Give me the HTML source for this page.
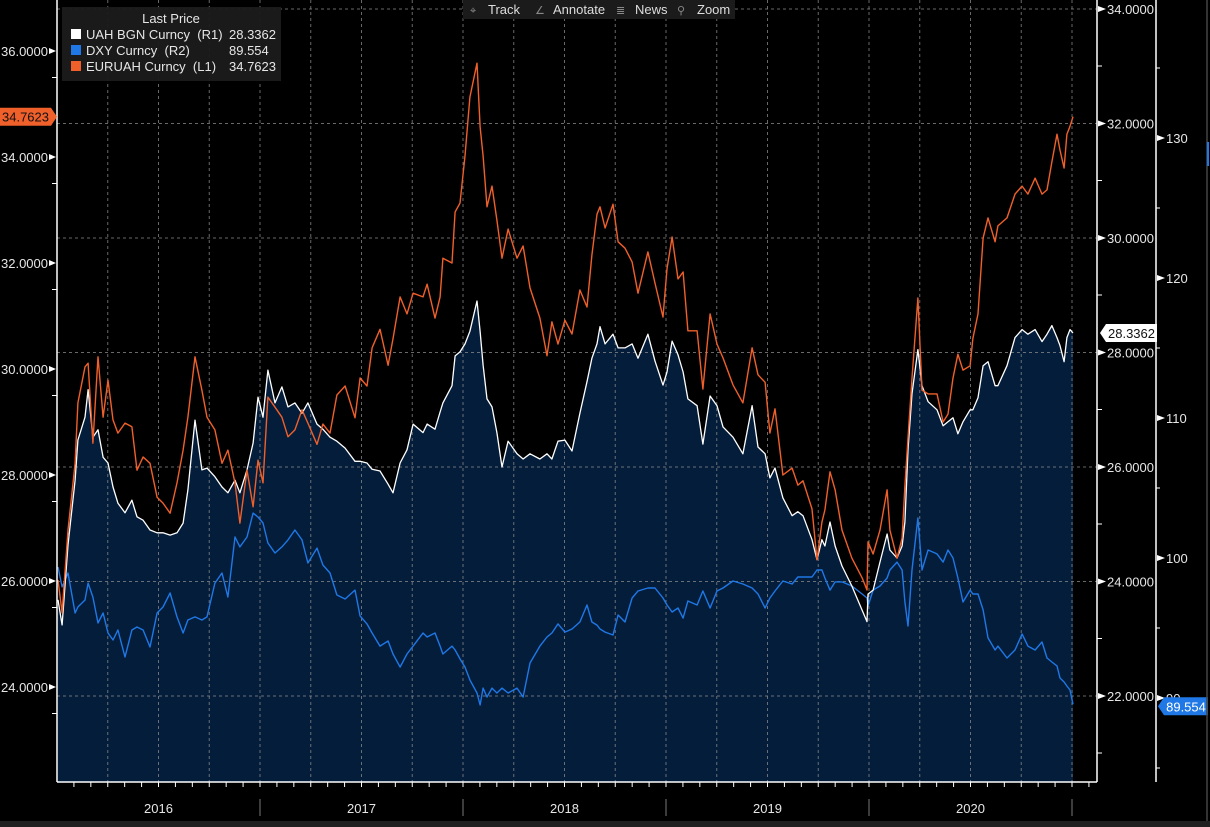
<!DOCTYPE html>
<html><head><meta charset="utf-8"><style>
html,body{margin:0;padding:0;background:#000;width:1210px;height:827px;overflow:hidden}
svg{display:block;font-family:"Liberation Sans",sans-serif}
</style></head><body>
<svg id="chart" width="1210" height="827" viewBox="0 0 1210 827" xmlns="http://www.w3.org/2000/svg">
<rect x="0" y="0" width="1210" height="827" fill="#000"/>
<g id="plot"></g>
<g id="axes"></g>
<rect x="0" y="821" width="1210" height="6" fill="#202020"/>
<line x1="1207" y1="0" x2="1207" y2="821" stroke="#444" stroke-width="1.5"/>
<rect x="1207" y="142" width="2" height="24" fill="#1f78e6"/>
<!-- legend -->
<g>
<rect x="62" y="7" width="219" height="74" fill="#1b1b1b" opacity="0.95"/>
<text x="171" y="23" fill="#e6e6e6" font-size="13" text-anchor="middle">Last Price</text>
<g><rect x="71" y="29" width="10" height="10" fill="#fff"/><text x="86" y="39" fill="#e6e6e6" font-size="13" xml:space="preserve">UAH BGN Curncy  (R1)</text><text x="229" y="39" fill="#e6e6e6" font-size="13">28.3362</text></g>
<g><rect x="71" y="45" width="10" height="10" fill="#1f78e6"/><text x="86" y="55" fill="#e6e6e6" font-size="13" xml:space="preserve">DXY Curncy  (R2)</text><text x="229" y="55" fill="#e6e6e6" font-size="13">89.554</text></g>
<g><rect x="71" y="61" width="10" height="10" fill="#f0602a"/><text x="86" y="71" fill="#e6e6e6" font-size="13" xml:space="preserve">EURUAH Curncy  (L1)</text><text x="229" y="71" fill="#e6e6e6" font-size="13">34.7623</text></g>
</g>
<!-- toolbar -->
<g>
<rect x="463" y="0" width="272" height="19" fill="#1b1b1b"/>
<g><text x="470" y="14" fill="#888" font-size="11">⌖</text><text x="488" y="14" fill="#ddd" font-size="13">Track</text></g>
<g><text x="535" y="14" fill="#888" font-size="11">∠</text><text x="553" y="14" fill="#ddd" font-size="13">Annotate</text></g>
<g><text x="616" y="14" fill="#888" font-size="11">≣</text><text x="635" y="14" fill="#ddd" font-size="13">News</text></g>
<g><text x="677" y="14" fill="#888" font-size="11">⚲</text><text x="697" y="14" fill="#ddd" font-size="13">Zoom</text></g>
</g>
</svg>
<script>
// years since 2016-01-01
const dates = [0.005,0.025,0.054,0.089,0.103,0.138,0.153,0.177,0.202,0.227,0.251,0.276,0.300,0.335,0.369,0.394,0.424,0.458,0.493,0.522,0.557,0.591,0.621,0.645,0.680,0.714,0.739,0.778,0.813,0.842,0.877,0.901,0.936,0.966,0.990,1.015,1.039,1.074,1.108,1.138,1.172,1.207,1.236,
1.281,1.310,1.345,1.379,1.419,1.468,1.493,1.527,1.552,1.591,1.631,1.655,1.690,1.724,1.754,1.803,1.823,1.862,1.887,1.901,1.946,1.961,1.985,2.010,2.034,2.069,2.084,2.099,2.118,2.143,2.167,2.192,2.222,2.266,2.296,2.330,2.379,2.414,2.438,2.468,
2.502,2.537,2.576,2.611,2.635,2.660,2.675,2.700,2.739,2.764,2.798,2.833,2.862,2.911,2.946,2.985,3.005,3.030,3.059,3.084,3.108,3.153,3.182,3.217,3.251,3.281,3.330,3.379,3.424,3.453,3.488,3.512,3.537,3.576,3.621,3.650,3.675,3.719,3.744,3.768,
3.783,3.808,3.833,3.867,3.916,3.966,3.990,3.995,4.020,4.054,4.089,4.103,4.138,4.163,4.177,4.192,4.212,4.241,4.261,4.291,4.335,4.365,4.389,4.414,4.438,4.463,4.498,4.512,4.537,4.562,4.586,4.621,4.635,4.680,4.719,4.754,4.783,4.818,4.852,4.877,4.901,4.926,4.941,4.961,4.975,4.990,5.005];
const euruah = [26.02,25.40,26.96,28.22,29.36,30.04,30.11,28.60,30.23,29.09,29.79,29.04,28.79,28.98,28.91,28.09,28.34,28.22,27.58,27.47,27.28,27.85,28.47,29.09,30.23,29.60,29.09,28.85,28.22,28.47,27.85,27.09,28.09,27.40,28.28,27.85,29.47,29.28,29.09,28.72,28.85,29.23,28.98,
28.58,28.96,28.79,29.51,29.68,29.08,29.83,29.68,30.40,30.75,30.07,30.57,31.36,31.04,31.43,31.36,31.60,30.96,31.36,32.09,32.00,32.96,33.13,34.02,35.13,35.77,34.57,34.02,33.06,33.45,32.81,32.09,32.64,32.09,32.32,31.53,30.96,30.25,30.89,30.47,
30.92,30.66,31.49,31.17,32.15,32.92,33.06,32.66,33.11,32.40,32.28,32.02,31.43,32.21,31.62,30.98,31.89,32.49,31.70,31.83,30.72,30.72,29.62,31.04,30.47,30.21,29.70,29.36,30.40,29.89,29.75,28.79,29.25,28.00,28.13,27.81,27.89,27.36,26.40,27.11,
27.34,28.06,27.72,26.96,26.43,26.06,25.83,26.74,26.51,26.96,27.72,26.96,26.43,26.81,27.79,28.70,29.83,31.34,29.60,29.53,29.53,29.00,29.15,29.83,30.28,29.98,30.06,30.58,31.04,32.47,32.85,32.40,32.70,32.85,33.30,33.45,33.30,33.60,33.30,33.38,33.91,34.43,34.13,33.79,34.43,34.58,34.76];
const uah = [23.68,23.24,24.64,25.77,26.47,26.87,27.35,26.52,26.65,26.17,26.07,25.65,25.37,25.20,25.42,25.13,25.07,24.90,24.85,24.85,24.81,24.85,25.02,25.60,26.82,25.95,25.98,25.83,25.65,25.55,25.77,25.55,25.95,26.42,27.22,26.87,27.69,27.12,27.40,27.05,27.12,26.94,27.12,
26.75,26.66,26.52,26.45,26.33,26.10,26.10,26.07,25.96,25.93,25.70,25.55,26.07,26.30,26.75,26.60,26.75,26.66,26.96,27.12,27.42,27.94,28.01,28.15,28.37,28.90,28.37,27.78,27.19,27.05,26.60,26.00,26.45,26.23,26.14,26.23,26.14,26.23,26.14,26.45,
26.47,26.28,26.94,27.49,27.90,28.15,28.45,28.15,28.32,28.08,28.08,28.15,27.90,28.32,27.85,27.43,27.66,28.20,27.96,27.66,27.19,27.07,26.40,27.24,27.07,26.70,26.52,26.23,27.07,26.35,26.23,25.81,25.98,25.46,25.15,25.22,25.15,24.73,24.38,24.73,
24.62,25.04,24.62,24.27,23.92,23.50,23.30,23.78,23.85,24.34,24.83,24.55,24.41,24.62,25.04,26.30,27.28,28.05,27.42,27.14,27.00,26.72,26.79,26.86,26.58,26.79,27.00,27.00,27.21,27.77,27.84,27.42,27.42,27.77,28.26,28.40,28.32,28.40,28.19,28.32,28.47,28.26,28.12,27.84,28.26,28.40,28.34];
const dxy = [99.36,97.93,98.93,96.07,96.50,97.00,98.21,97.21,95.36,96.07,94.64,94.14,94.86,92.93,94.86,95.07,94.86,93.64,96.07,96.50,97.50,95.79,94.64,95.57,95.79,95.57,95.79,98.21,98.93,97.21,101.50,100.79,101.50,103.21,102.93,102.50,101.07,100.36,100.79,101.29,102.00,101.29,99.64,
100.71,99.50,98.93,97.36,97.07,97.71,95.86,95.29,94.64,93.71,94.07,93.14,92.21,93.14,93.71,94.64,94.36,94.64,93.71,93.14,93.71,93.43,92.79,92.21,91.29,90.36,89.50,90.71,90.07,90.71,90.36,90.71,90.36,90.71,90.07,92.50,93.71,94.36,94.64,95.29,
94.71,94.93,95.43,96.64,95.43,95.21,94.93,94.71,94.50,95.93,95.43,97.14,97.64,97.86,97.86,97.14,96.64,96.14,96.43,95.71,96.93,96.64,97.64,96.43,97.64,97.86,98.36,98.14,97.86,97.43,96.43,97.14,97.64,98.36,98.14,98.64,98.64,98.64,99.14,99.14,
98.57,97.71,98.29,98.29,98.00,97.43,97.14,96.57,97.71,98.00,98.57,99.14,99.71,99.14,96.86,95.14,99.14,102.86,99.14,100.57,100.29,99.71,100.57,100.00,98.57,96.86,97.71,97.43,97.43,96.29,94.29,93.43,93.71,92.86,93.43,94.57,93.71,93.43,94.00,92.86,92.57,92.29,91.43,91.14,90.86,90.57,89.55];
const leftTicks = [36,34,32,30,28,26,24];
const r1Ticks = [34,32,30,28,26,24,22];
const r2Ticks = [130,120,110,100,90];
const years = ["2016","2017","2018","2019","2020"];

const X0=57, X1=1097, YB=782;
const xS = t => X0 + t*203;
const yL = v => 51 + (36-v)*53;
const yR1 = v => 9 + (34-v)*57.25;
const yR2 = v => 138 + (130-v)*14;
const NS="http://www.w3.org/2000/svg";
const plot=document.getElementById('plot'), axes=document.getElementById('axes');
function mk(tag, attrs, parent){const e=document.createElementNS(NS,tag);for(const k in attrs)e.setAttribute(k,attrs[k]);parent.appendChild(e);return e;}
function pts(vals, ys){return vals.map((v,i)=>xS(dates[i]).toFixed(1)+','+ys(v).toFixed(1)).join(' ');}

// area under UAH
let areaD='M'+xS(dates[0]).toFixed(1)+','+YB+' L'+pts(uah,yR1).split(' ').join(' L')+' L'+xS(dates[dates.length-1]).toFixed(1)+','+YB+' Z';
const area=mk('path',{d:areaD,fill:'#041d3b'},plot);



// gridlines
r1Ticks.forEach(v=>{
  const g=mk('line',{x1:X0,x2:X1,y1:yR1(v),y2:yR1(v),stroke:'#8c8c8c','stroke-width':1,'stroke-dasharray':'3,3',opacity:0.75},plot);
  
  
});
for(let k=1;k<=20;k++){
  const x=X0+k*50.75;
  const g=mk('line',{x1:x,x2:x,y1:0,y2:YB,stroke:'#8c8c8c','stroke-width':1,'stroke-dasharray':'3,3',opacity:0.75},plot);
  
  
}

// series
const lb=mk('polyline',{points:pts(dxy,yR2),fill:'none',stroke:'#1f78e6','stroke-width':1.4,'stroke-linejoin':'round'},plot);


const lw=mk('polyline',{points:pts(uah,yR1),fill:'none',stroke:'#ffffff','stroke-width':1.3,'stroke-linejoin':'round'},plot);


const lo=mk('polyline',{points:pts(euruah,yL),fill:'none',stroke:'#f0602a','stroke-width':1.4,'stroke-linejoin':'round'},plot);



// axis lines
[[X0,0,X0,YB],[X0,YB,X1,YB],[X1,0,X1,YB],[1156,0,1156,YB]].forEach(a=>{
  const l=mk('line',{x1:a[0],y1:a[1],x2:a[2],y2:a[3],stroke:'#fff','stroke-width':1.5},axes);
  
  
});

// left axis
leftTicks.forEach(v=>{
  const y=yL(v);
  const t=mk('text',{x:48,y:y+5,fill:'#e6e6e6','font-size':13,'text-anchor':'end'},axes);
  t.textContent=v.toFixed(4);
  
  
  mk('path',{d:`M49,${y-3} L56,${y} L49,${y+3} Z`,fill:'#fff'},axes);
  const m=mk('line',{x1:52,x2:57,y1:y+26.5,y2:y+26.5,stroke:'#fff'},axes);
  
  
});
// R1 axis
r1Ticks.forEach(v=>{
  const y=yR1(v);
  const t=mk('text',{x:1107,y:y+5,fill:'#e6e6e6','font-size':13},axes);
  t.textContent=v.toFixed(4);
  
  
  mk('path',{d:`M1098,${y-3} L1106,${y} L1098,${y+3} Z`,fill:'#fff'},axes);
  const m=mk('line',{x1:1097,x2:1102,y1:y+57,y2:y+57,stroke:'#fff'},axes);
  
  
});
// R2 axis
r2Ticks.forEach(v=>{
  const y=yR2(v);
  const t=mk('text',{x:1166,y:y+5,fill:'#e6e6e6','font-size':13},axes);
  t.textContent=String(v);
  
  
  mk('path',{d:`M1157,${y-3} L1165,${y} L1157,${y+3} Z`,fill:'#fff'},axes);
  const m=mk('line',{x1:1156,x2:1160,y1:y-70,y2:y-70,stroke:'#fff'},axes);
  
  
});
const m2=mk('line',{x1:1156,x2:1160,y1:yR2(90)+70,y2:yR2(90)+70,stroke:'#fff'},axes);



// x axis ticks and years
for(let k=1;k<=61;k++){
  const x=X0+k*203/12;
  mk('line',{x1:x,x2:x,y1:YB,y2:YB+5,stroke:'#fff'},axes);
}
years.forEach((y,i)=>{
  const t=mk('text',{x:xS(i+0.5),y:813,fill:'#e6e6e6','font-size':13,'text-anchor':'middle'},axes);
  t.textContent=y;
  
  
  const s=mk('line',{x1:xS(i+1),x2:xS(i+1),y1:799,y2:816,stroke:'#777'},axes);
  
  
});

// last value labels
function tag(x,y,w,fill,txtCol,text,dir,name){
  const g=mk('g',{},axes);
  
  
  const d = dir==='right' ? `M${x},${y-9} L${x+w},${y-9} L${x+w+6},${y} L${x+w},${y+9} L${x},${y+9} Z`
                          : `M${x},${y} L${x+6},${y-9} L${x+6+w},${y-9} L${x+6+w},${y+9} L${x+6},${y+9} Z`;
  mk('path',{d:d,fill:fill},g);
  const t=mk('text',{x: dir==='right'? x+w/2 : x+6+w/2, y:y+5,fill:txtCol,'font-size':13,'text-anchor':'middle'},g);
  t.textContent=text;
}
tag(0,yL(euruah[euruah.length-1]),51,'#f0602a','#111','34.7623','right','euruah-last-label');
tag(1100,yR1(uah[uah.length-1]),51,'#ffffff','#111','28.3362','left','uah-last-label');
tag(1158,yR2(dxy[dxy.length-1])+2,44,'#1f78e6','#fff','89.554','left','dxy-last-label');
</script>
</body></html>
